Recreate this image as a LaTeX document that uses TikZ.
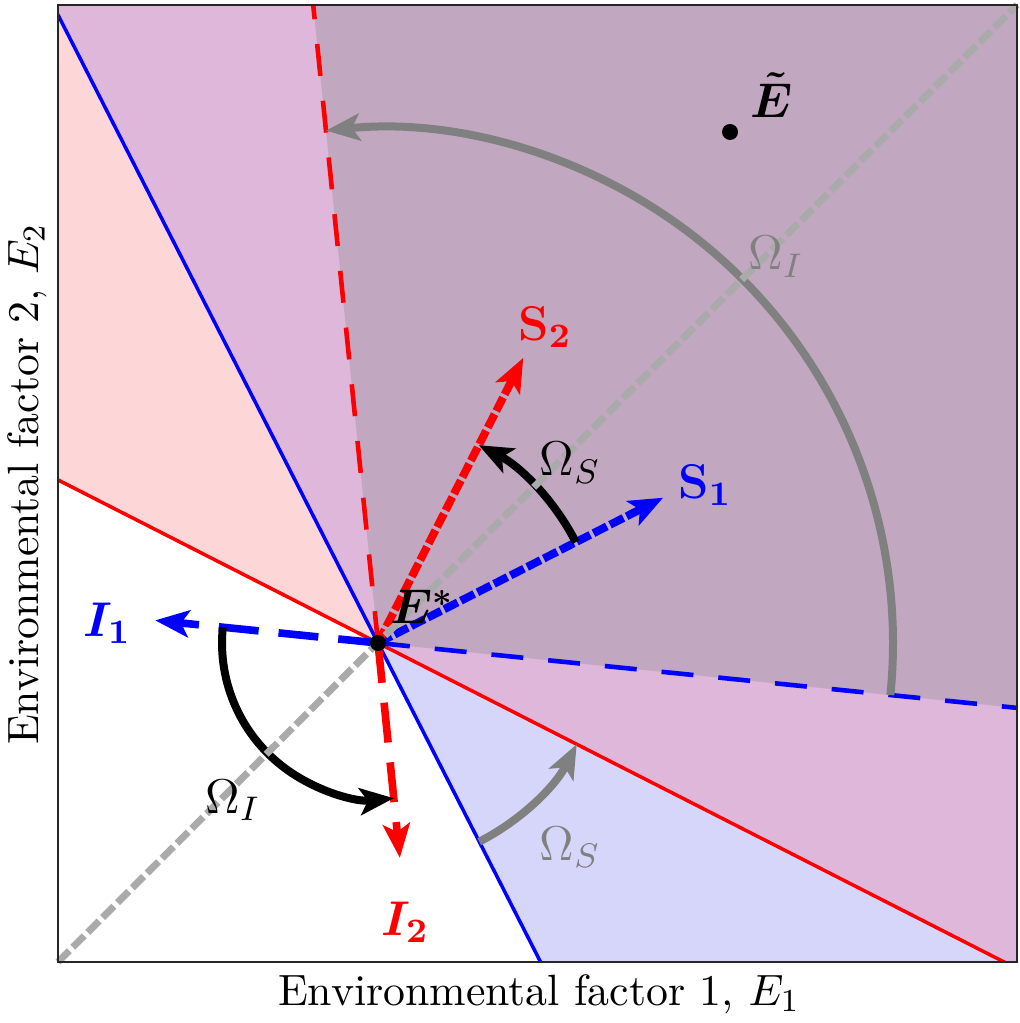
\RequirePackage{fix-cm}
\documentclass[tikz,border=0pt]{standalone}
\usepackage{bm}
\usetikzlibrary{arrows.meta,calc}
\definecolor{pinkreg}{RGB}{253,214,216}
\definecolor{purpreg}{RGB}{222,183,218}
\definecolor{darkreg}{RGB}{193,167,192}
\definecolor{bluereg}{RGB}{214,214,251}
\definecolor{arcgray}{RGB}{128,128,128}
\definecolor{diaggray}{RGB}{170,170,170}
\tikzset{
  lbl/.style={font=\fontsize{12.2}{14}\selectfont, inner sep=0pt},
  axlbl/.style={font=\fontsize{10.95}{13}\selectfont, inner sep=0pt},
  boundary/.style={line width=0.875pt},
  thindash/.style={line width=1.15pt, dash pattern=on 8pt off 6.25pt},
  tipshape/.style={-{Stealth[length=8.5pt,width=6.75pt,inset=2pt]}},
  thickdash/.style={line width=1.9pt, dash pattern=on 10pt off 5pt, tipshape},
  sdash/.style={line width=2pt, dash pattern=on 3.75pt off 0.9pt, tipshape},
  arcarrow/.style={line width=2pt, tipshape},
  diag/.style={line width=1.75pt, diaggray, dash pattern=on 4pt off 1.25pt},
  dot/.style={circle, fill=black, minimum size=4pt, inner sep=0pt},
}
\begin{document}
\begin{tikzpicture}[x=0.25pt,y=0.25pt]
\useasboundingbox (0,0) rectangle (1019,1023);
\coordinate (E) at (378,380);
\coordinate (BL) at (58,61);
\coordinate (TR) at (1017,1018);
\path (E) +(117:1500) coordinate (bU) +(-63:1500) coordinate (bD)
          +(153:1500) coordinate (rL) +(-27:1500) coordinate (rR)
          +(95.8:1500) coordinate (rdU) +(-5.8:1500) coordinate (bdR)
          +(27:320) coordinate (S1tip) +(63:320) coordinate (S2tip)
          +(174.2:224) coordinate (I1tip) +(275.8:216) coordinate (I2tip);
\begin{scope}
  \clip (BL) rectangle (TR);
  \fill[pinkreg] (E) -- +(117:2000) -- +(153:2000) -- cycle;
  \fill[purpreg] (E) -- +(-27:2000) -- +(45:2000) -- +(117:2000) -- cycle;
  \fill[bluereg] (E) -- +(-63:2000) -- +(-27:2000) -- cycle;
  \fill[darkreg] (E) -- +(-5.8:2000) -- +(45:2000) -- +(95.8:2000) -- cycle;
  \draw[boundary, blue] (bU) -- (bD);
  \draw[boundary, red] (rL) -- (rR);
  \draw[thindash, red] (E) -- (rdU);
  \draw[thindash, blue] (E) -- (bdR);
\end{scope}
% invasion / sensitivity vectors
\draw[sdash, blue] (E) -- (S1tip);
\draw[sdash, red] (E) -- (S2tip);
\draw[thickdash, blue] (E) -- (I1tip);
\draw[thickdash, red] (E) -- (I2tip);
% angle arcs
\draw[arcarrow, black] (E) ++(27:222) arc[start angle=27, end angle=63, radius=222];
\draw[arcarrow, black] (E) ++(174.2:156) arc[start angle=174.2, end angle=275.8, radius=156];
\draw[arcarrow, arcgray] (E) ++(-5.8:515) arc[start angle=-5.8, end angle=95.8, radius=515];
\draw[arcarrow, arcgray] (E) ++(-63:223) arc[start angle=-63, end angle=-27, radius=223];
% diagonal
\draw[diag] (BL) -- (TR);
% points
\node[dot] (Estar) at (E) {};
\node[dot] (Etilde) at (730,891) {};
% labels
\node[lbl, text=red] (S2lab) at (545,696) {$\mathbf{S_2}$};
\node[lbl, text=blue] (S1lab) at (705,538) {$\mathbf{S_1}$};
\node[lbl, text=blue] (I1lab) at (107,400) {$\bm{I_1}$};
\node[lbl, text=red] (I2lab) at (405,101) {$\bm{I_2}$};
\node[lbl] (Estarlab) at (422,416) {$\bm{E^*}$};
\node[lbl] (Etildelab) at (772,928) {$\bm{\tilde{E}}$};
\node[lbl] (OmSblack) at (570,560) {$\Omega_S$};
\node[lbl] (OmIblack) at (233,223) {$\Omega_I$};
\node[lbl, text=arcgray] (OmIgray) at (776,766) {$\Omega_I$};
\node[lbl, text=arcgray] (OmSgray) at (570,176) {$\Omega_S$};
% frame and axis labels
\draw[line width=0.375pt, black!85] (BL) rectangle (TR);
\node[axlbl, anchor=base] (xlab) at (539,18) {Environmental factor 1, $E_1$};
\node[axlbl, anchor=base, rotate=90] (ylab) at (38,539) {Environmental factor 2, $E_2$};
\end{tikzpicture}
\end{document}
